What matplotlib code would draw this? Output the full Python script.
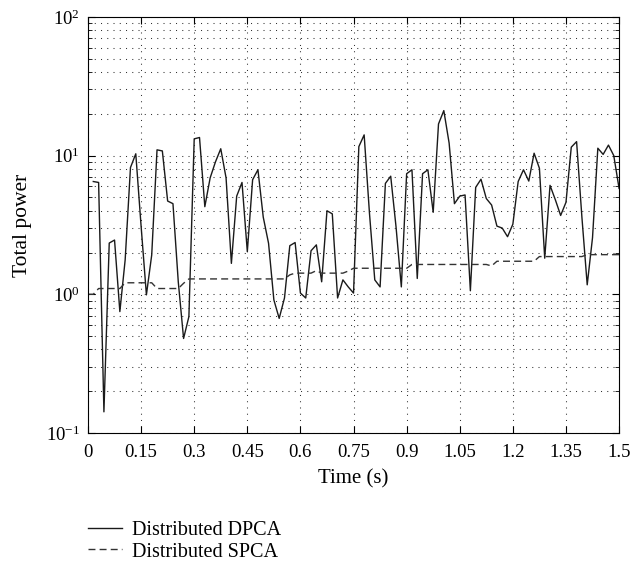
import matplotlib
matplotlib.use('Agg')
import matplotlib.pyplot as plt
import numpy as np
from matplotlib.ticker import LogLocator, NullFormatter

# total power per time step (solid starts at step 1, dashed at step 0)
dpca = [6.5, 6.4, 0.142, 2.34, 2.46, 0.75, 1.77, 8.2, 10.3, 3.1,
        0.99, 1.92, 11.0, 10.8, 4.7, 4.5, 1.23, 0.48, 0.69, 13.2,
        13.5, 4.28, 6.9, 9.0, 11.2, 6.9, 1.67, 5.1, 6.4, 2.03,
        6.7, 7.9, 3.6, 2.33, 0.91, 0.67, 0.94, 2.24, 2.36, 1.02,
        0.94, 2.06, 2.27, 1.23, 4.0, 3.8, 0.94, 1.27, 1.13, 1.02,
        11.6, 14.1, 3.84, 1.27, 1.13, 6.3, 7.1, 3.07, 1.13, 7.4,
        7.9, 1.30, 7.4, 7.9, 3.9, 16.9, 21.1, 12.3, 4.5, 5.1,
        5.2, 1.06, 5.9, 6.75, 4.9, 4.4, 3.1, 3.0, 2.6, 3.2,
        6.5, 7.9, 6.55, 10.4, 8.1, 1.82, 6.1, 4.8, 3.7, 4.6,
        11.5, 12.6, 3.6, 1.17, 2.56, 11.3, 10.2, 11.9, 10.0, 5.8]

spca = ([1.0, 1.0] + [1.10] * 5 + [1.21] * 6 + [1.10] * 5 + [1.2]
        + [1.29] * 19 + [1.38] + [1.42] * 4 + [1.48] + [1.42] * 5 + [1.47]
        + [1.54] * 11 + [1.64] * 15 + [1.60] + [1.73] * 8 + [1.87] * 9
        + [1.93] * 7)

dt = 0.015
t_spca = np.arange(len(spca)) * dt
t_dpca = np.arange(1, len(dpca) + 1) * dt

xticks = [0, 0.15, 0.3, 0.45, 0.6, 0.75, 0.9, 1.05, 1.2, 1.35, 1.5]
xticklabels = ['0', '0.15', '0.3', '0.45', '0.6', '0.75', '0.9', '1.05', '1.2', '1.35', '1.5']

plt.rcParams['font.family'] = ['Liberation Serif', 'DejaVu Serif']
plt.rcParams['mathtext.fontset'] = 'stix'

fig = plt.figure(figsize=(6.33, 5.63), dpi=100)
ax = fig.add_axes([0.139, 0.231, 0.839, 0.739])

ax.plot(t_dpca, dpca, color='#1a1a1a', lw=1.0, label='Distributed DPCA')
ax.plot(t_spca, spca, color='#333333', lw=1.0, dashes=(5, 3), label='Distributed SPCA')

ax.set_yscale('log')
ax.set_ylim(0.1, 100)
ax.set_xlim(0, 1.5)
ax.set_xticks(xticks)
ax.set_xticklabels(xticklabels)
ax.yaxis.set_major_locator(LogLocator(base=10, numticks=10))
ax.yaxis.set_minor_locator(LogLocator(base=10, subs=np.arange(2, 10), numticks=10))
ax.yaxis.set_minor_formatter(NullFormatter())

ax.grid(True, which='major', axis='both', color='#333333', lw=0.75, linestyle=(0, (1, 5)))
ax.grid(True, which='minor', axis='y', color='#333333', lw=0.75, linestyle=(0, (1, 5)))
ax.tick_params(which='both', direction='in', top=True, right=True, labelsize=13.5)
ax.tick_params(axis='x', which='major', pad=8)
ax.tick_params(axis='y', which='major', pad=6)
ax.tick_params(which='major', length=5)
ax.tick_params(which='minor', length=3)
for s in ax.spines.values():
    s.set_linewidth(0.8)

ax.set_xlabel('Time (s)', fontsize=15, labelpad=6)
ax.set_ylabel('Total power', fontsize=15.5, labelpad=10)

fig.legend(loc='upper left', bbox_to_anchor=(0.139, 0.074), frameon=False,
           handlelength=1.7, handletextpad=0.5, labelspacing=0.1,
           borderpad=0, borderaxespad=0, fontsize=14.5)

fig.savefig('out.png', dpi=100)
